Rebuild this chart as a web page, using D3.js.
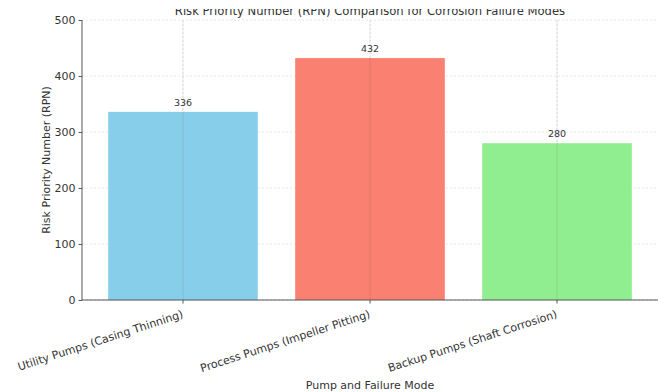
<!DOCTYPE html>
<html>
<head>
<meta charset="utf-8">
<script src="https://cdn.jsdelivr.net/npm/d3@7"></script>
<style>
  body { margin: 0; background: #fff; }
  text { font-family: "DejaVu Sans", sans-serif; }
</style>
</head>
<body>
<div id="chart"></div>
<script>
// chart data
const categories = ['Utility Pumps (Casing Thinning)', 'Process Pumps (Impeller Pitting)', 'Backup Pumps (Shaft Corrosion)'];
const rpnValues = [336, 432, 280];
const barColors = ['#87CEEB', '#FA8072', '#90EE90'];
const yTicks = [0, 100, 200, 300, 400, 500];

const width = 667, height = 392;
const margin = {top: 20, left: 82, right: 9, bottom: 92};

let svg = d3.select('#chart')
  .append('svg')
  .attr('width', width)
  .attr('height', height);

let xScale = d3.scaleBand()
  .domain(categories)
  .range([margin.left, width - margin.right])
  .paddingInner(0.2)
  .paddingOuter(0.14);

let yScale = d3.scaleLinear()
  .domain([0, 500])
  .range([height - margin.bottom, margin.top]);

// grid lines
let grid = svg.append('g');
grid.selectAll('.hgrid')
  .data(yTicks)
  .enter().append('line')
    .attr('x1', margin.left).attr('x2', width - margin.right)
    .attr('y1', d => yScale(d)).attr('y2', d => yScale(d))
    .style('stroke', '#e6e6e6').style('stroke-dasharray', '2,2');
grid.selectAll('.vgrid')
  .data(categories)
  .enter().append('line')
    .attr('x1', d => xScale(d) + xScale.bandwidth() / 2)
    .attr('x2', d => xScale(d) + xScale.bandwidth() / 2)
    .attr('y1', margin.top).attr('y2', height - margin.bottom)
    .style('stroke', '#e6e6e6').style('stroke-dasharray', '2,2');

// bars
svg.selectAll('.bar')
  .data(rpnValues)
  .enter().append('rect')
    .attr('x', (d, i) => xScale(categories[i]))
    .attr('y', d => yScale(d))
    .attr('width', xScale.bandwidth())
    .attr('height', d => yScale(0) - yScale(d))
    .style('fill', (d, i) => barColors[i]);

// faint vertical grid over the bars
svg.selectAll('.vgrid2')
  .data(categories)
  .enter().append('line')
    .attr('x1', d => xScale(d) + xScale.bandwidth() / 2)
    .attr('x2', d => xScale(d) + xScale.bandwidth() / 2)
    .attr('y1', margin.top).attr('y2', height - margin.bottom)
    .style('stroke', '#000').style('stroke-opacity', 0.08);

// value labels
svg.selectAll('.val')
  .data(rpnValues)
  .enter().append('text')
    .attr('x', (d, i) => xScale(categories[i]) + xScale.bandwidth() / 2)
    .attr('y', d => yScale(d) - 6)
    .attr('text-anchor', 'middle')
    .style('font-size', '9.5px')
    .style('fill', '#333')
    .text(d => d);

// y axis
let yAxis = svg.append('g')
  .attr('transform', 'translate(' + margin.left + ',0)')
  .call(d3.axisLeft(yScale).tickValues(yTicks).tickSize(3.5).tickPadding(3));
yAxis.selectAll('text').style('font-size', '11px').style('fill', '#333');
yAxis.select('.domain').style('stroke', '#555').attr('d', 'M0,' + yScale(500) + 'V' + yScale(0));
yAxis.selectAll('.tick line').style('stroke', '#555');

// x axis
let xAxis = svg.append('g')
  .attr('transform', 'translate(0,' + yScale(0) + ')')
  .call(d3.axisBottom(xScale).tickSize(3.5).tickSizeOuter(0).tickPadding(4));
xAxis.select('.domain').style('stroke', '#555').attr('d', 'M' + margin.left + ',0H' + (width - margin.right));
xAxis.selectAll('.tick line').style('stroke', '#555');
xAxis.selectAll('text')
  .style('font-size', '11px')
  .style('fill', '#333')
  .attr('text-anchor', 'end')
  .attr('dy', '0.77em')
  .attr('transform', 'translate(-4,2) rotate(-18)');

// axis titles
svg.append('text')
  .attr('transform', 'translate(50,' + ((yScale(0) + yScale(500)) / 2) + ') rotate(-90)')
  .attr('text-anchor', 'middle')
  .style('font-size', '11px')
  .style('fill', '#333')
  .text('Risk Priority Number (RPN)');

svg.append('text')
  .attr('x', (margin.left + width - margin.right) / 2)
  .attr('y', 389)
  .attr('text-anchor', 'middle')
  .style('font-size', '11px')
  .style('fill', '#333')
  .text('Pump and Failure Mode');

// title, top part cut off like the original
svg.append('clipPath')
  .attr('id', 'titleClip')
  .append('rect')
    .attr('x', 0).attr('y', 9)
    .attr('width', width).attr('height', 12);

svg.append('text')
  .attr('x', (margin.left + width - margin.right) / 2)
  .attr('y', 15)
  .attr('clip-path', 'url(#titleClip)')
  .attr('text-anchor', 'middle')
  .style('font-size', '11.6px')
  .style('fill', '#333')
  .text('Risk Priority Number (RPN) Comparison for Corrosion Failure Modes');
</script>
</body>
</html>
